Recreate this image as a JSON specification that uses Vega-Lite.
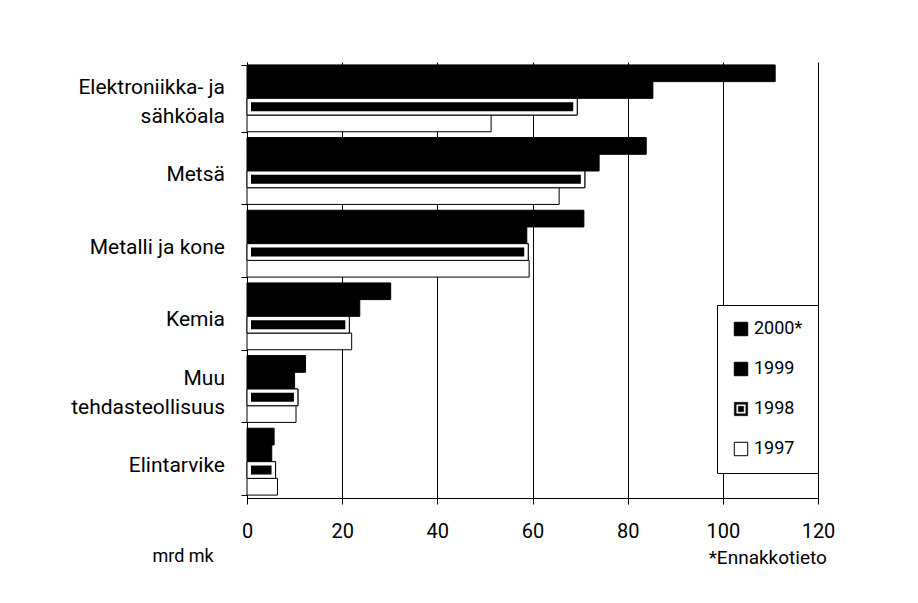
{
  "$schema": "https://vega.github.io/schema/vega-lite/v6.json",
  "autosize": "none",
  "width": 571,
  "height": 436,
  "padding": {"left": 247, "top": 62, "right": 100, "bottom": 105},
  "background": "white",
  "config": {
    "view": {"stroke": null},
    "font": "Roboto, sans-serif"
  },
  "title": {
    "text": "*Ennakkotieto",
    "orient": "bottom",
    "anchor": "end",
    "fontSize": 19,
    "fontWeight": "normal",
    "color": "black",
    "dx": -8,
    "offset": -16
  },
  "data": {
    "values": [
      {"ala": "Elektroniikka- ja\nsähköala", "vuosi": "2000*", "arvo": 111},
      {"ala": "Elektroniikka- ja\nsähköala", "vuosi": "1999", "arvo": 85.3},
      {"ala": "Elektroniikka- ja\nsähköala", "vuosi": "1998", "arvo": 69.4},
      {"ala": "Elektroniikka- ja\nsähköala", "vuosi": "1997", "arvo": 51.3},
      {"ala": "Metsä", "vuosi": "2000*", "arvo": 83.9},
      {"ala": "Metsä", "vuosi": "1999", "arvo": 74},
      {"ala": "Metsä", "vuosi": "1998", "arvo": 71},
      {"ala": "Metsä", "vuosi": "1997", "arvo": 65.6},
      {"ala": "Metalli ja kone", "vuosi": "2000*", "arvo": 70.8},
      {"ala": "Metalli ja kone", "vuosi": "1999", "arvo": 58.8},
      {"ala": "Metalli ja kone", "vuosi": "1998", "arvo": 59.1},
      {"ala": "Metalli ja kone", "vuosi": "1997", "arvo": 59.3},
      {"ala": "Kemia", "vuosi": "2000*", "arvo": 30.2},
      {"ala": "Kemia", "vuosi": "1999", "arvo": 23.7},
      {"ala": "Kemia", "vuosi": "1998", "arvo": 21.5},
      {"ala": "Kemia", "vuosi": "1997", "arvo": 22},
      {"ala": "Muu\ntehdasteollisuus", "vuosi": "2000*", "arvo": 12.3},
      {"ala": "Muu\ntehdasteollisuus", "vuosi": "1999", "arvo": 10},
      {"ala": "Muu\ntehdasteollisuus", "vuosi": "1998", "arvo": 10.7},
      {"ala": "Muu\ntehdasteollisuus", "vuosi": "1997", "arvo": 10.3},
      {"ala": "Elintarvike", "vuosi": "2000*", "arvo": 5.7},
      {"ala": "Elintarvike", "vuosi": "1999", "arvo": 5.2},
      {"ala": "Elintarvike", "vuosi": "1998", "arvo": 6},
      {"ala": "Elintarvike", "vuosi": "1997", "arvo": 6.4}
    ]
  },
  "encoding": {
    "y": {
      "field": "ala",
      "type": "nominal",
      "sort": null,
      "scale": {"paddingInner": 0.08, "paddingOuter": 0.04},
      "axis": {
        "title": null,
        "tickBand": "extent",
        "domainColor": "black",
        "tickColor": "black",
        "tickSize": 6,
        "labels": false
      }
    },
    "x": {
      "field": "arvo",
      "type": "quantitative",
      "scale": {"domain": [0, 120], "nice": false},
      "axis": {
        "values": [0, 20, 40, 60, 80, 100, 120],
        "grid": true,
        "gridColor": "black",
        "gridOpacity": 1,
        "domainColor": "black",
        "tickColor": "black",
        "tickSize": 6,
        "labelPadding": 17,
        "labelFontSize": 20,
        "labelColor": "black",
        "labelFlush": false,
        "title": "mrd mk",
        "titleFontSize": 18,
        "titleFontWeight": "normal",
        "titleColor": "black",
        "titleAlign": "left",
        "titleBaseline": "middle",
        "titleX": -95,
        "titleY": 58
      }
    }
  },
  "layer": [
    {
      "mark": {"type": "bar", "stroke": "black", "strokeWidth": 1},
      "encoding": {
        "yOffset": {
          "field": "vuosi",
          "type": "nominal",
          "sort": ["2000*", "1999", "1998", "1997"]
        },
        "fill": {
          "field": "vuosi",
          "type": "nominal",
          "scale": {"domain": ["2000*", "1999", "1998", "1997"], "range": ["black", "black", "black", "white"]},
          "legend": {
            "title": null,
            "orient": "none",
            "legendX": 470,
            "legendY": 243,
            "padding": 15,
            "strokeColor": "black",
            "fillColor": "white",
            "symbolType": "square",
            "symbolSize": 180,
            "symbolStrokeColor": "black",
            "symbolStrokeWidth": 1,
            "rowPadding": 22,
            "labelFontSize": 18,
            "labelColor": "black",
            "labelOffset": 4,
            "encode": {
              "symbols": {
                "update": {
                  "shape": {"signal": "datum.value === '1998' ? 'M-1,-1H1V1H-1Z M-0.72,-0.72V0.72H0.72V-0.72Z M-0.4,-0.4H0.4V0.4H-0.4Z' : 'square'"},
                  "stroke": {"value": "black"},
                  "strokeWidth": {"signal": "datum.value === '1998' ? 0.5 : 1"},
                  "opacity": {"value": 1}
                }
              }
            }
          }
        }
      }
    },
    {
      "transform": [{"filter": "datum.vuosi === '1998'"}],
      "mark": {"type": "bar", "fill": "white", "stroke": "black", "strokeWidth": 1},
      "encoding": {
        "yOffset": {
          "field": "vuosi",
          "type": "nominal",
          "sort": ["2000*", "1999", "1998", "1997"]
        }
      }
    },
    {
      "transform": [{"filter": "datum.vuosi === '1998'"}],
      "mark": {"type": "bar", "fill": "black", "height": 9, "xOffset": -4, "x2Offset": 4},
      "encoding": {
        "yOffset": {
          "field": "vuosi",
          "type": "nominal",
          "sort": ["2000*", "1999", "1998", "1997"]
        },
        "x2": {"datum": 0}
      }
    },
    {
      "transform": [{"filter": "datum.vuosi === '1997' && indexof(datum.ala, '\\n') < 0"}],
      "mark": {"type": "text", "align": "right", "baseline": "middle", "dx": -22, "dy": 4, "fontSize": 21, "color": "black"},
      "encoding": {
        "x": {"datum": 0},
        "text": {"field": "ala"}
      }
    },
    {
      "transform": [{"filter": "datum.vuosi === '1997' && indexof(datum.ala, '\\n') >= 0"}],
      "mark": {"type": "text", "align": "right", "baseline": "middle", "dx": -22, "dy": -10, "lineBreak": "\n", "lineHeight": 29, "fontSize": 21, "color": "black"},
      "encoding": {
        "x": {"datum": 0},
        "text": {"field": "ala"}
      }
    }
  ]
}
